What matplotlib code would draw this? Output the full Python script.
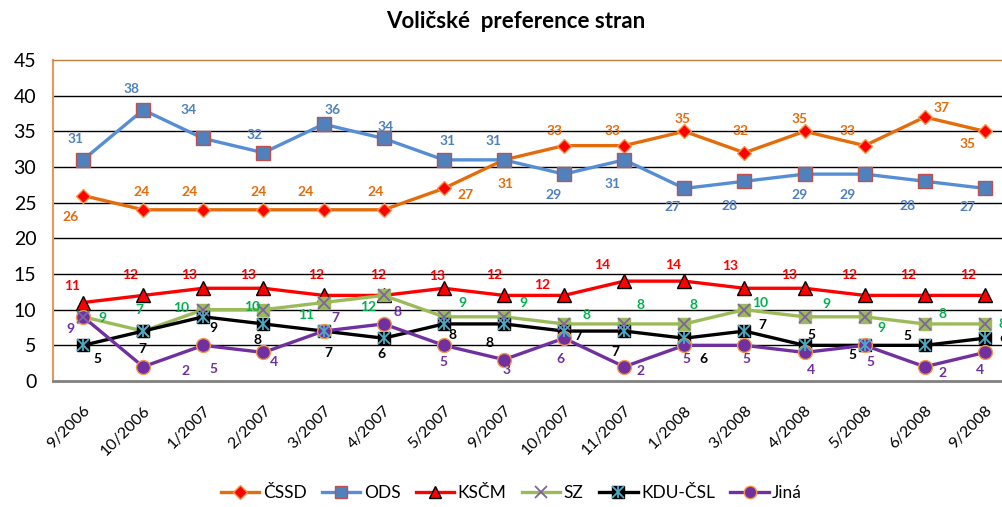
import numpy as np
import matplotlib.pyplot as plt
from matplotlib.lines import Line2D
from matplotlib.legend_handler import HandlerTuple

plt.rcParams['font.family'] = ['Lato', 'DejaVu Sans']

# data
months = ['9/2006', '10/2006', '1/2007', '2/2007', '3/2007', '4/2007', '5/2007', '9/2007',
          '10/2007', '11/2007', '1/2008', '3/2008', '4/2008', '5/2008', '6/2008', '9/2008']
cssd = [26, 24, 24, 24, 24, 24, 27, 31, 33, 33, 35, 32, 35, 33, 37, 35]
ods = [31, 38, 34, 32, 36, 34, 31, 31, 29, 31, 27, 28, 29, 29, 28, 27]
kscm = [11, 12, 13, 13, 12, 12, 13, 12, 12, 14, 14, 13, 13, 12, 12, 12]
sz = [9, 7, 10, 10, 11, 12, 9, 9, 8, 8, 8, 10, 9, 9, 8, 8]
kdu = [5, 7, 9, 8, 7, 6, 8, 8, 7, 7, 6, 7, 5, 5, 5, 6]
jina = [9, 2, 5, 4, 7, 8, 5, 3, 6, 2, 5, 5, 4, 5, 2, 4]

# label offsets (pixels, +y = down on screen)
cssd_off = [(-12, 21), (-2, -18), (-14, -18), (-5, -18), (-18, -18), (-8, -18), (22, 7), (2, 24),
            (-10, -15), (-12, -15), (-2, -12), (-4, -22), (-5, -12), (-17, -15), (17, -9), (-17, 13)]
ods_off = [(-8, -21), (-12, -21), (-15, -28), (-9, -18), (9, -14), (2, -11), (4, -19), (-10, -19),
           (-10, 21), (-12, 24), (-12, 19), (-15, 25), (-5, 21), (-17, 21), (-17, 25), (-17, 19)]
kscm_off = [(-11, -17), (-13, -20), (-14, -13), (-15, -13), (-7, -20), (-6, -20), (-7, -12), (-10, -20),
            (-22, -10), (-22, -16), (-11, -16), (-14, -22), (-15, -13), (-16, -20), (-17, -20), (-17, -20)]
sz_off = [(19, 1), (-4, -21), (-22, -2), (-11, -3), (-17, 12), (-16, 12), (19, -14), (19, -14),
          (22, -9), (16, -19), (9, -19), (16, -7), (22, -13), (17, 11), (18, -10), (18, 0)]
kdu_off = [(14, 14), (-1, 18), (10, 11), (-6, 16), (5, 22), (-2, 16), (9, 11), (-14, 19),
           (14, 5), (-9, 21), (19, 21), (18, -6), (7, -10), (-12, 10), (-17, -9), (18, 0)]
jina_off = [(-13, 12), (42, 4), (10, 24), (11, 10), (12, -13), (14, -12), (0, 17), (3, 10),
            (-4, 21), (16, 4), (2, 14), (2, 14), (6, 18), (6, 17), (18, 6), (-5, 18)]

fig = plt.figure(figsize=(10.03, 5.07), dpi=100)
ax = fig.add_axes([53 / 1003, 126 / 507, 962 / 1003, 321 / 507])
x = np.arange(len(months))

lw = 2.4
ax.plot(x, cssd, color='#E46C0A', lw=lw, marker='D', ms=7, mfc='#FF0000', mec='#F79646', zorder=5)
ax.plot(x, ods, color='#558ED5', lw=lw, marker='s', ms=10, mfc='#4F81BD', mec='#C0504D', mew=1, zorder=5)
ax.plot(x, kscm, color='#FF0000', lw=lw, marker='^', ms=10, mfc='#FF0000', mec='black', mew=1, zorder=5)
ax.plot(x, sz, color='#9BBB59', lw=lw, marker='s', ms=9, mfc='#9BBB59', mec='#9BBB59', zorder=5)
ax.plot(x, sz, ls='none', marker='x', ms=9, mec='#8064A2', mew=1.3, zorder=6)
ax.plot(x, kdu, color='black', lw=lw, marker='s', ms=9, mfc='black', mec='black', zorder=5)
ax.plot(x, kdu, ls='none', marker='x', ms=9, mec='#4BACC6', mew=1.3, zorder=6)
ax.plot(x, kdu, ls='none', marker='|', ms=9, mec='#4BACC6', mew=1.3, zorder=6)
ax.plot(x, jina, color='#7030A0', lw=lw, marker='o', ms=10, mfc='#7030A0', mec='#F79646', mew=1, zorder=5)

series = [(cssd, cssd_off, '#E46C0A'), (ods, ods_off, '#4F81BD'), (kscm, kscm_off, '#FF0000'),
          (sz, sz_off, '#00B050'), (kdu, kdu_off, 'black'), (jina, jina_off, '#7030A0')]
for vals, offs, col in series:
    for i, v in enumerate(vals):
        dx, dy = offs[i]
        ax.annotate(str(v), (i, v), xytext=(dx * 0.72, -dy * 0.72), textcoords='offset points',
                    ha='center', va='center', color=col, fontsize=10, fontweight='bold',
                    zorder=7, annotation_clip=False)

ax.set_xlim(-0.5, 15.5)
ax.set_ylim(0, 45)
ax.set_yticks(range(0, 46, 5))
for yv in range(5, 45, 5):
    ax.axhline(yv, color='black', lw=1, zorder=1)
ax.spines['left'].set_color('#E59A5A')
ax.spines['left'].set_linewidth(1.5)
ax.spines['top'].set_color('#C0803F')
ax.spines['top'].set_linewidth(1)
ax.spines['right'].set_visible(False)
ax.spines['bottom'].set_color('#808080')
ax.spines['bottom'].set_linewidth(2)
ax.tick_params(axis='y', length=0, labelsize=14, pad=12)
ax.tick_params(axis='x', length=0, labelsize=11.5, pad=16)
ax.set_xticks(x)
ax.set_xticklabels(months, rotation=45, ha='right', rotation_mode='anchor')

fig.text(0.514, 0.958, 'Voličské  preference stran', ha='center', va='center',
         fontsize=16, fontweight='bold')

h_cssd = Line2D([], [], color='#E46C0A', lw=lw, marker='D', ms=7, mfc='#FF0000', mec='#F79646')
h_ods = Line2D([], [], color='#558ED5', lw=lw, marker='s', ms=9, mfc='#4F81BD', mec='#C0504D')
h_kscm = Line2D([], [], color='#FF0000', lw=lw, marker='^', ms=9, mfc='#FF0000', mec='black')
h_sz = (Line2D([], [], color='#9BBB59', lw=lw),
        Line2D([], [], ls='none', marker='x', ms=8, mec='#8064A2', mew=1.3))
h_kdu = (Line2D([], [], color='black', lw=lw, marker='s', ms=8, mfc='black', mec='black'),
         Line2D([], [], ls='none', marker='x', ms=8, mec='#4BACC6', mew=1.3),
         Line2D([], [], ls='none', marker='|', ms=8, mec='#4BACC6', mew=1.3))
h_jina = Line2D([], [], color='#7030A0', lw=lw, marker='o', ms=9, mfc='#7030A0', mec='#F79646')
fig.legend([h_cssd, h_ods, h_kscm, h_sz, h_kdu, h_jina],
           ['ČSSD', 'ODS', 'KSČM', 'SZ', 'KDU-ČSL', 'Jiná'],
           handler_map={tuple: HandlerTuple(ndivide=1)},
           loc='center', bbox_to_anchor=(0.51, 0.027), ncol=6, frameon=False,
           fontsize=12.5, handlelength=2.2, handletextpad=0.2, columnspacing=0.9)

fig.savefig('out.png', dpi=100)
